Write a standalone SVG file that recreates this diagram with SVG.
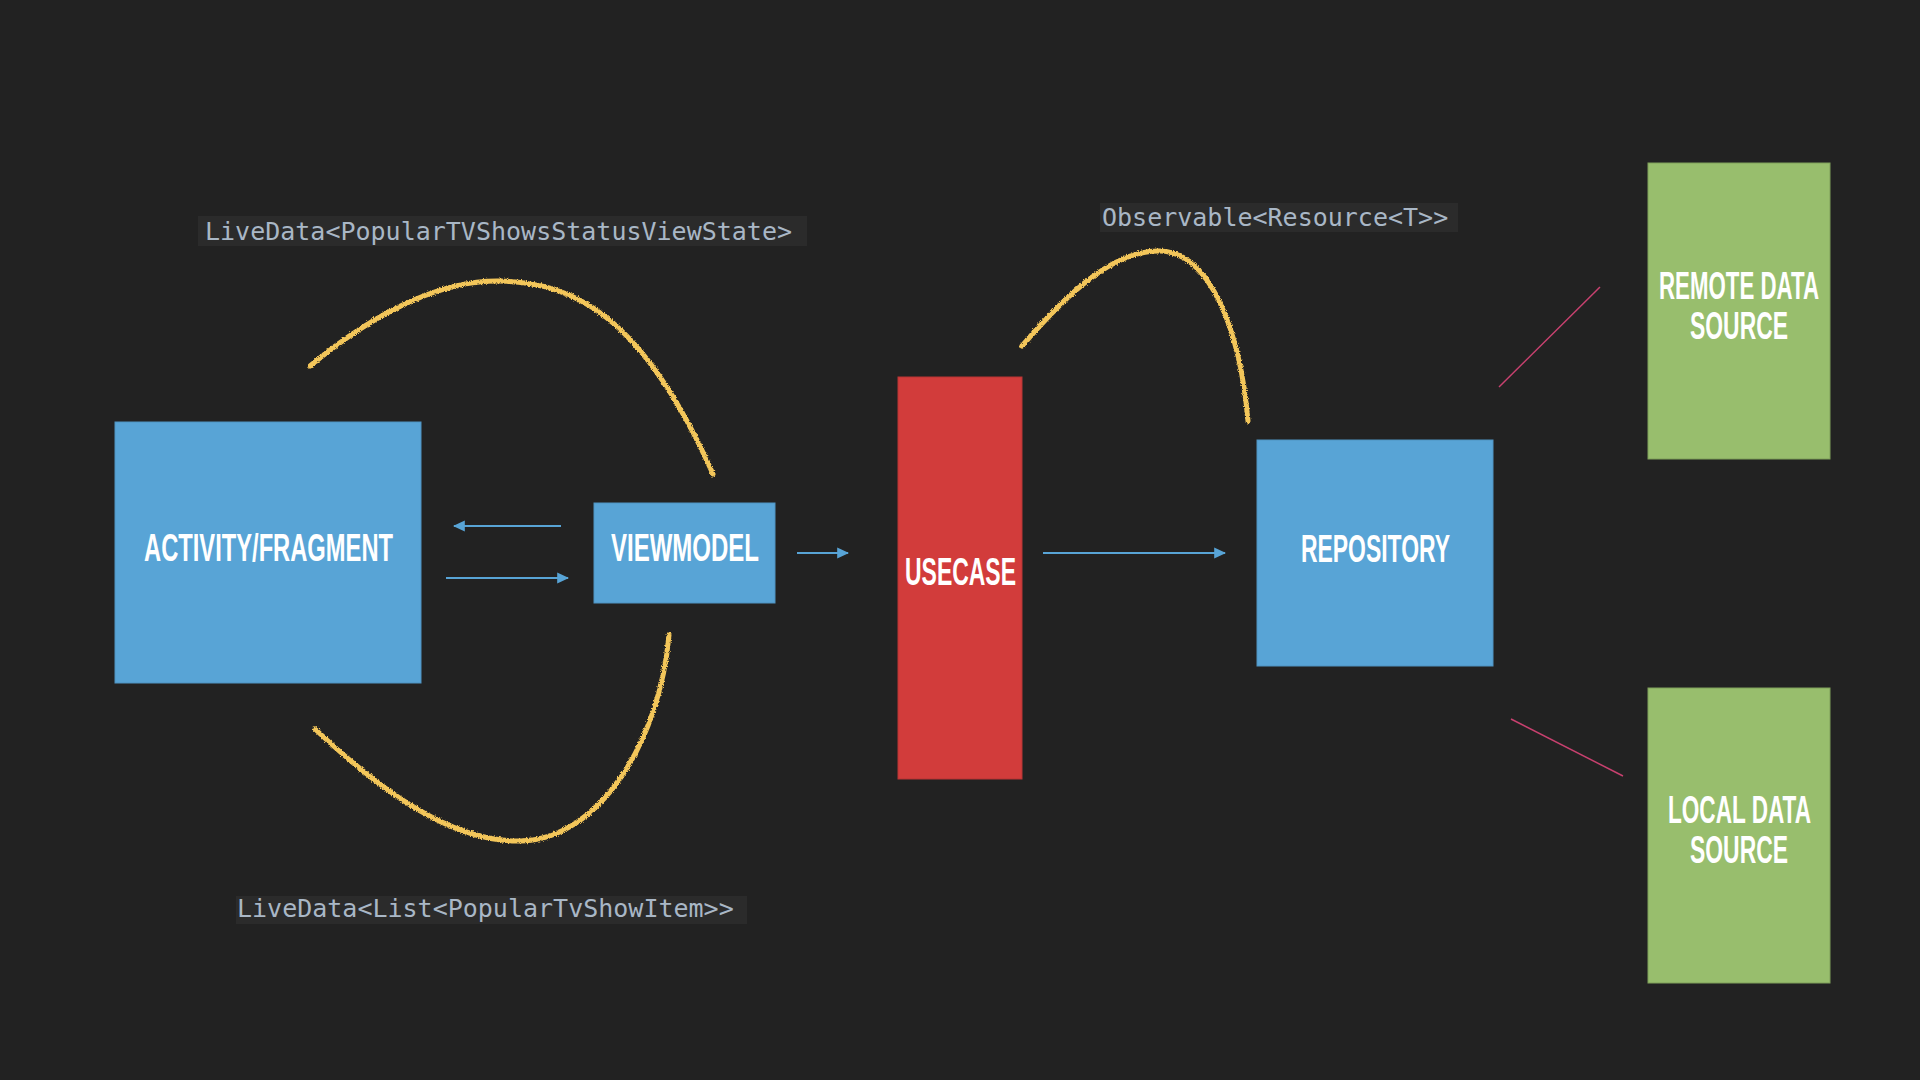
<svg xmlns="http://www.w3.org/2000/svg" width="1920" height="1080" viewBox="0 0 1920 1080">
<defs>
<style>
.blue{fill:#58A4D6;stroke:#4F93C2;stroke-width:1}
.red{fill:#D23C3B;stroke:#B83434;stroke-width:1}
.green{fill:#98BE6D;stroke:#7F9F5A;stroke-width:1}
.lbl{font-family:"Liberation Sans","DejaVu Sans",sans-serif;font-weight:bold;font-size:38px;fill:#FFFFFF}
.code{font-family:"DejaVu Sans Mono","Liberation Mono",monospace;font-size:25px;fill:#A9B7C6}
.codebg{fill:#2B2B2B}
.arr{stroke:#58A4D6;stroke-width:2.2;fill:none}
.pink{stroke:#C8416F;stroke-width:1.5;fill:none}
.chalk{stroke:#F3C65A;stroke-width:5;fill:none;stroke-linecap:round;filter:url(#rough)}
</style>
<marker id="ah" markerUnits="userSpaceOnUse" markerWidth="12" markerHeight="12" viewBox="0 0 10 10" refX="9" refY="5" orient="auto">
<path d="M0,0.5 L10,5 L0,9.5 Z" fill="#58A4D6"/>
</marker>
<filter id="rough" x="-5%" y="-5%" width="110%" height="110%">
<feTurbulence type="fractalNoise" baseFrequency="1.2" numOctaves="2" seed="3" result="n"/>
<feDisplacementMap in="SourceGraphic" in2="n" scale="3.5" xChannelSelector="R" yChannelSelector="G"/>
</filter>
</defs>
<rect x="0" y="0" width="1920" height="1080" fill="#222222"/>

<g id="label-top-left">
<rect class="codebg" x="198" y="216" width="609" height="30"/>
<text class="code" x="205" y="240">LiveData&lt;PopularTVShowsStatusViewState&gt;</text>
</g>
<g id="label-bottom-left">
<rect class="codebg" x="236" y="896" width="511" height="28"/>
<text class="code" x="237" y="917">LiveData&lt;List&lt;PopularTvShowItem&gt;&gt;</text>
</g>
<g id="label-top-right">
<rect class="codebg" x="1100" y="203" width="358" height="29"/>
<text class="code" x="1102" y="226">Observable&lt;Resource&lt;T&gt;&gt;</text>
</g>

<g id="activity-fragment">
<rect class="blue" x="115" y="422" width="306" height="261"/>
<text class="lbl" x="144" y="561" textLength="249" lengthAdjust="spacingAndGlyphs">ACTIVITY/FRAGMENT</text>
</g>
<g id="viewmodel">
<rect class="blue" x="594" y="503" width="181" height="100"/>
<text class="lbl" x="611" y="561" textLength="148" lengthAdjust="spacingAndGlyphs">VIEWMODEL</text>
</g>
<g id="usecase">
<rect class="red" x="898" y="377" width="124" height="402"/>
<text class="lbl" x="905" y="585" textLength="111" lengthAdjust="spacingAndGlyphs">USECASE</text>
</g>
<g id="repository">
<rect class="blue" x="1257" y="440" width="236" height="226"/>
<text class="lbl" x="1301" y="562" textLength="149" lengthAdjust="spacingAndGlyphs">REPOSITORY</text>
</g>
<g id="remote-data-source">
<rect class="green" x="1648" y="163" width="182" height="296"/>
<text class="lbl" x="1659" y="299" textLength="160" lengthAdjust="spacingAndGlyphs">REMOTE DATA</text>
<text class="lbl" x="1690" y="339" textLength="98" lengthAdjust="spacingAndGlyphs">SOURCE</text>
</g>
<g id="local-data-source">
<rect class="green" x="1648" y="688" width="182" height="295"/>
<text class="lbl" x="1668" y="823" textLength="143" lengthAdjust="spacingAndGlyphs">LOCAL DATA</text>
<text class="lbl" x="1690" y="863" textLength="98" lengthAdjust="spacingAndGlyphs">SOURCE</text>
</g>

<g id="connectors">
<line class="arr" x1="561" y1="526" x2="454" y2="526" marker-end="url(#ah)"/>
<line class="arr" x1="446" y1="578" x2="568" y2="578" marker-end="url(#ah)"/>
<line class="arr" x1="797" y1="553" x2="848" y2="553" marker-end="url(#ah)"/>
<line class="arr" x1="1043" y1="553" x2="1225" y2="553" marker-end="url(#ah)"/>
<line class="pink" x1="1499" y1="387" x2="1600" y2="287"/>
<line class="pink" x1="1511" y1="719" x2="1623" y2="776"/>
<path class="chalk" d="M310,366 C380,308 445,280 500,281 C570,283 640,310 713,474"/>
<path class="chalk" d="M315,729 C380,790 450,842 520,841 C600,840 660,740 669,635"/>
<path class="chalk" d="M1022,346 C1070,290 1115,250 1160,251 C1210,252 1240,330 1248,421"/>
</g>
</svg>
